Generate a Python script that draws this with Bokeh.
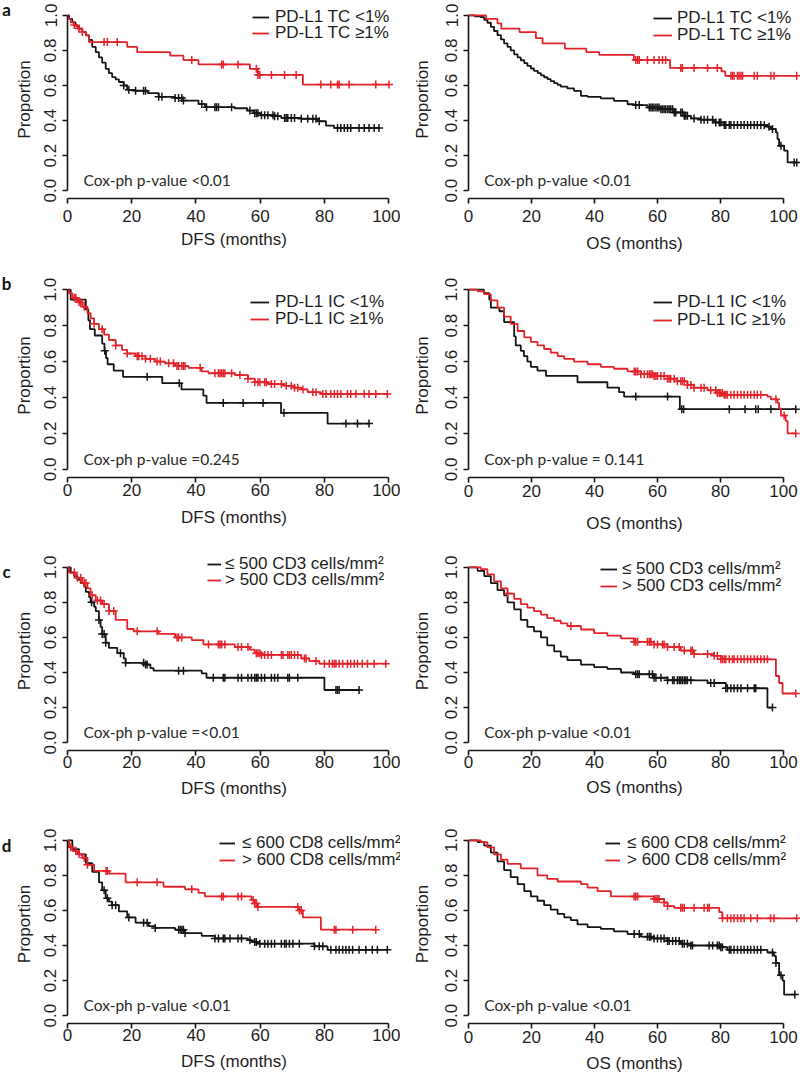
import numpy as np
from bokeh.plotting import figure
from bokeh.models import (Range1d, Legend, LegendItem, Label, FixedTicker,
                          PrintfTickFormatter)
from bokeh.layouts import gridplot
from bokeh.core.properties import value
from bokeh.embed import file_html
from bokeh.resources import INLINE

# ------------------------------------------------------------------ data
# each curve: event times (months), survival after each event, censor times
# a: PD-L1 TC, DFS
a_dfs_lo_t = [0.5, 1.5, 2.5, 3.6, 4.6, 5.7, 6.7, 7.7, 8.8, 9.8, 10.8, 11.9, 12.9, 13.9, 15.0, 16.0, 17.5, 18.6,
              21.0, 25.0, 28.4, 33.5, 36.0, 40.8, 42.8, 52.0, 56.0, 58.0, 60.0, 64.5, 66.6, 72.8, 78.0, 80.5, 83.0]
a_dfs_lo_s = [0.98, 0.96, 0.94, 0.925, 0.905, 0.886, 0.86, 0.82, 0.79, 0.76, 0.73, 0.695, 0.67, 0.648, 0.635, 0.62,
              0.60, 0.575, 0.57, 0.556, 0.535, 0.528, 0.514, 0.495, 0.476, 0.47, 0.457, 0.442, 0.43, 0.425, 0.415,
              0.41, 0.396, 0.371, 0.358]
a_dfs_lo_c = [17.5, 19.1, 21.2, 23.7, 24.3, 28.4, 29.4, 33.5, 34.6, 35.6, 36.1, 41.8, 43.3, 45.9, 46.4, 47.0, 51.1,
              56.8, 58.3, 58.8, 59.3, 60.4, 61.4, 62.4, 64.0, 64.5, 65.5, 67.6, 68.1, 68.6, 69.7, 70.7, 72.8, 74.8,
              76.4, 77.4, 78.4, 84.1, 85.1, 86.2, 87.2, 88.2, 90.8, 92.4, 93.9, 95.5, 97.0]
a_dfs_hi_t = [0.3, 1.0, 2.1, 3.1, 4.6, 5.7, 6.7, 18.6, 21.7, 32.0, 36.1, 40.8, 56.8, 59.3, 73.3]
a_dfs_hi_s = [0.98, 0.96, 0.945, 0.925, 0.905, 0.886, 0.848, 0.82, 0.79, 0.77, 0.745, 0.72, 0.695, 0.66, 0.605]
a_dfs_hi_c = [2.1, 3.6, 4.6, 11.4, 12.4, 15.5, 38.7, 48.0, 48.5, 53.1, 58.8, 59.3, 59.9, 63.5, 67.6, 71.2, 78.9,
              82.0, 84.1, 84.6, 87.7, 96.0, 100.1]
# a: PD-L1 TC, OS
a_os_lo_t = [2.0, 3.9, 5.0, 6.0, 7.1, 8.1, 9.2, 10.3, 11.3, 12.4, 13.4, 14.5, 15.6, 16.6, 17.7, 18.7, 19.8, 20.8,
             22.0, 23.0, 24.0, 25.1, 26.1, 27.2, 28.3, 29.3, 31.4, 33.5, 35.7, 37.8, 42.0, 46.2, 50.5, 52.6, 56.8,
             61.1, 65.3, 68.5, 70.6, 73.8, 78.0, 81.2, 94.9, 96.0, 97.6, 98.1, 98.6, 100.2, 101.3]
a_os_lo_s = [0.995, 0.99, 0.975, 0.958, 0.935, 0.911, 0.887, 0.863, 0.84, 0.82, 0.80, 0.778, 0.76, 0.744, 0.728,
             0.712, 0.697, 0.683, 0.67, 0.658, 0.647, 0.636, 0.625, 0.613, 0.603, 0.594, 0.583, 0.569, 0.541, 0.535,
             0.526, 0.512, 0.493, 0.488, 0.474, 0.465, 0.446, 0.427, 0.412, 0.405, 0.389, 0.374, 0.365, 0.351,
             0.332, 0.294, 0.256, 0.228, 0.161]
a_os_lo_c = [53.1, 54.2, 57.4, 57.9, 58.4, 58.9, 59.5, 60.0, 60.5, 61.1, 61.6, 62.1, 62.6, 63.2, 63.7, 64.2, 64.8,
             65.3, 65.8, 67.4, 67.9, 68.5, 69.0, 69.5, 71.6, 73.8, 74.8, 75.9, 77.5, 78.5, 79.6, 80.1, 81.2, 81.7,
             82.8, 83.3, 84.3, 85.4, 86.5, 87.5, 88.6, 89.6, 90.7, 91.7, 92.8, 93.9, 95.4, 96.5, 99.2, 103.4, 104.2]
a_os_hi_t = [5.6, 9.2, 10.4, 16.2, 21.4, 23.5, 30.6, 37.4, 41.5, 52.5, 64.0, 80.3, 81.5]
a_os_hi_s = [0.98, 0.955, 0.925, 0.905, 0.87, 0.84, 0.81, 0.79, 0.775, 0.745, 0.70, 0.68, 0.655]
a_os_hi_c = [53.1, 53.7, 54.2, 56.8, 58.9, 60.5, 61.6, 62.6, 67.4, 67.9, 71.6, 75.9, 79.0, 83.3, 83.8, 84.3, 85.4,
             85.9, 86.5, 87.0, 90.7, 91.7, 96.0, 97.0, 104.2]
# b: PD-L1 IC, DFS
b_dfs_lo_t = [1.0, 5.7, 6.5, 7.0, 8.5, 10.8, 11.5, 12.0, 12.5, 14.4, 17.3, 29.5, 35.5, 42.3, 43.3, 66.5, 81.0]
b_dfs_lo_s = [0.945, 0.89, 0.83, 0.78, 0.745, 0.70, 0.66, 0.62, 0.585, 0.55, 0.515, 0.48, 0.445, 0.41, 0.37,
              0.315, 0.255]
b_dfs_lo_c = [11.6, 24.8, 34.8, 48.5, 54.7, 60.9, 67.4, 86.7, 90.3, 93.9]
b_dfs_hi_t = [0.5, 1.5, 3.1, 4.6, 6.2, 7.2, 8.3, 9.8, 11.4, 12.9, 15.0, 17.0, 18.6, 21.2, 24.3, 27.3, 30.4, 33.5,
              37.7, 41.8, 43.9, 52.1, 56.2, 58.3, 62.4, 67.6, 70.7, 72.8, 74.8, 78.9]
b_dfs_hi_s = [0.98, 0.955, 0.93, 0.905, 0.87, 0.84, 0.81, 0.78, 0.75, 0.72, 0.69, 0.665, 0.645, 0.63, 0.615, 0.60,
              0.59, 0.575, 0.565, 0.545, 0.535, 0.525, 0.505, 0.485, 0.475, 0.465, 0.455, 0.445, 0.43, 0.42]
b_dfs_hi_c = [2.1, 2.6, 3.6, 4.1, 5.2, 8.3, 10.8, 15.0, 18.6, 21.7, 22.2, 23.2, 24.3, 25.8, 27.9, 28.9, 31.5, 33.0,
              34.1, 34.6, 35.6, 36.1, 36.6, 41.3, 45.9, 47.0, 47.5, 48.0, 48.5, 49.0, 51.1, 53.7, 56.2, 58.3, 59.3,
              59.9, 61.4, 61.9, 63.5, 64.5, 66.6, 68.1, 69.7, 70.7, 71.7, 73.3, 76.4, 77.4, 79.5, 80.5, 82.0, 83.1,
              84.1, 85.1, 87.2, 88.2, 89.8, 92.4, 93.9, 96.0, 99.6]
# b: PD-L1 IC, OS
b_os_lo_t = [4.9, 6.6, 7.1, 9.8, 11.3, 14.5, 15.0, 16.6, 17.6, 18.7, 19.8, 21.9, 24.6, 34.6, 44.1, 47.8, 49.4, 67.1]
b_os_lo_s = [0.98, 0.945, 0.90, 0.88, 0.82, 0.74, 0.69, 0.66, 0.63, 0.60, 0.57, 0.55, 0.52, 0.485, 0.455, 0.43,
             0.405, 0.335]
b_os_lo_c = [53.1, 63.2, 67.7, 68.3, 82.8, 87.8, 91.2, 92.0, 96.0, 103.9]
b_os_hi_t = [2.9, 5.0, 7.1, 9.2, 11.3, 13.4, 15.6, 17.7, 19.8, 21.9, 24.0, 26.1, 28.3, 30.4, 33.5, 37.8, 42.0, 46.2,
             50.5, 54.7, 58.9, 63.2, 66.3, 69.5, 71.6, 75.9, 79.0, 81.2, 94.9, 96.0, 98.1, 98.6, 99.2, 100.7, 101.3]
b_os_hi_s = [0.99, 0.975, 0.94, 0.90, 0.85, 0.81, 0.77, 0.735, 0.71, 0.69, 0.67, 0.65, 0.63, 0.615, 0.60, 0.585,
             0.57, 0.56, 0.545, 0.53, 0.52, 0.505, 0.49, 0.47, 0.455, 0.44, 0.425, 0.415, 0.405, 0.39, 0.37, 0.34,
             0.30, 0.27, 0.20]
b_os_hi_c = [52.6, 53.1, 53.7, 54.7, 55.8, 56.8, 57.4, 57.9, 58.4, 58.9, 59.5, 60.0, 61.1, 62.1, 63.2, 63.7, 64.2,
             65.3, 66.3, 67.4, 67.9, 68.5, 69.5, 70.6, 71.6, 73.8, 74.8, 76.9, 78.5, 79.0, 79.6, 80.1, 80.6, 81.2,
             81.7, 82.2, 83.3, 84.3, 85.4, 86.5, 87.5, 88.6, 89.6, 90.7, 91.7, 92.8, 97.6, 100.2, 103.9]
# c: CD3 density, DFS
c_dfs_lo_t = [1.0, 2.1, 3.1, 4.1, 5.2, 5.7, 6.7, 7.2, 8.3, 8.8, 9.8, 10.3, 10.8, 11.9, 12.9, 15.5, 17.5, 18.1,
              24.3, 25.8, 26.8, 41.8, 43.3, 80.0]
c_dfs_lo_s = [0.97, 0.95, 0.93, 0.91, 0.89, 0.86, 0.83, 0.80, 0.775, 0.75, 0.70, 0.66, 0.62, 0.57, 0.54, 0.51, 0.48,
              0.455, 0.445, 0.425, 0.41, 0.395, 0.37, 0.30]
c_dfs_lo_c = [7.5, 9.8, 10.8, 11.4, 11.9, 16.5, 18.1, 23.7, 24.3, 24.8, 34.6, 36.1, 45.4, 48.5, 49.0, 53.1, 54.2,
              56.2, 57.3, 58.3, 58.8, 59.3, 60.4, 61.4, 63.5, 64.5, 65.5, 68.6, 69.1, 71.7, 83.6, 84.1, 84.6, 90.8]
c_dfs_hi_t = [0.5, 2.6, 4.6, 6.2, 7.2, 8.8, 10.8, 12.9, 15.0, 18.6, 20.6, 28.4, 33.5, 38.7, 42.3, 52.1, 56.8, 58.3,
              60.4, 72.8, 75.3, 78.4]
c_dfs_hi_s = [0.97, 0.94, 0.91, 0.88, 0.84, 0.81, 0.79, 0.75, 0.70, 0.648, 0.635, 0.62, 0.60, 0.585, 0.56, 0.545,
              0.53, 0.51, 0.50, 0.48, 0.465, 0.45]
c_dfs_hi_c = [2.1, 3.1, 4.1, 5.2, 5.7, 7.7, 9.3, 10.3, 11.4, 12.9, 14.4, 21.7, 27.9, 34.1, 34.6, 35.6, 43.9, 47.0,
              47.5, 48.0, 49.0, 53.1, 54.2, 56.2, 58.8, 59.3, 59.9, 60.4, 61.4, 62.4, 63.5, 66.6, 67.1, 68.6, 69.1,
              69.7, 70.7, 71.7, 73.8, 74.3, 77.4, 80.0, 81.5, 82.5, 83.1, 83.6, 84.6, 85.7, 87.2, 88.2, 89.3, 90.3,
              91.8, 93.4, 95.5, 99.1]
# c: CD3 density, OS
c_os_lo_t = [2.9, 5.0, 7.1, 9.2, 11.3, 12.4, 14.5, 16.6, 18.7, 20.8, 23.0, 25.0, 27.2, 29.3, 31.4, 35.7, 39.9, 44.1,
             48.4, 52.6, 58.9, 63.2, 75.9, 81.7, 94.9]
c_os_lo_s = [0.98, 0.95, 0.91, 0.87, 0.84, 0.80, 0.76, 0.70, 0.66, 0.635, 0.60, 0.555, 0.52, 0.49, 0.47, 0.445,
             0.43, 0.42, 0.40, 0.39, 0.37, 0.355, 0.34, 0.31, 0.20]
c_os_lo_c = [53.1, 53.7, 54.2, 57.4, 58.4, 58.9, 59.5, 61.1, 63.2, 64.8, 65.3, 66.3, 66.9, 67.4, 67.9, 68.5, 69.0,
             69.5, 70.6, 76.9, 78.0, 81.7, 82.2, 83.3, 84.3, 85.4, 86.5, 88.6, 90.7, 91.2, 96.5]
c_os_hi_t = [3.9, 6.0, 8.1, 10.3, 12.4, 14.5, 16.6, 18.7, 20.8, 23.0, 25.0, 27.2, 29.3, 31.4, 35.7, 39.9, 44.1,
             48.4, 52.6, 58.9, 63.2, 67.4, 71.6, 78.0, 80.1, 97.6, 98.6, 99.7]
c_os_hi_s = [0.99, 0.96, 0.92, 0.88, 0.85, 0.82, 0.79, 0.77, 0.75, 0.73, 0.71, 0.695, 0.68, 0.665, 0.645, 0.625,
             0.61, 0.595, 0.575, 0.56, 0.545, 0.525, 0.505, 0.495, 0.475, 0.38, 0.34, 0.28]
c_os_hi_c = [12.4, 32.5, 52.6, 53.1, 53.7, 56.8, 57.4, 57.9, 58.9, 60.0, 61.6, 62.1, 63.2, 65.3, 66.9, 68.5, 70.6,
             71.1, 71.6, 75.9, 78.0, 79.0, 80.1, 80.6, 81.2, 81.7, 82.8, 83.8, 84.3, 85.4, 86.5, 87.5, 88.6, 89.6,
             90.7, 91.7, 92.8, 93.9, 94.9, 103.9]
# d: CD8 density, DFS
d_dfs_lo_t = [1.5, 3.6, 5.7, 7.7, 9.8, 10.8, 11.9, 12.9, 13.9, 16.0, 18.6, 21.2, 25.3, 27.3, 33.5, 36.6, 41.8, 45.9,
              56.2, 57.3, 59.3, 76.9, 81.0]
d_dfs_lo_s = [0.95, 0.92, 0.87, 0.82, 0.76, 0.715, 0.67, 0.65, 0.63, 0.595, 0.56, 0.53, 0.51, 0.50, 0.49, 0.47,
              0.455, 0.44, 0.43, 0.42, 0.41, 0.395, 0.375]
d_dfs_lo_c = [11.4, 12.4, 13.9, 15.0, 19.1, 23.7, 24.8, 27.3, 34.6, 35.1, 35.6, 36.1, 36.6, 45.9, 47.0, 48.5, 49.0,
              50.6, 53.1, 54.2, 56.8, 58.3, 58.8, 59.9, 61.4, 62.4, 63.5, 64.5, 66.6, 67.6, 68.1, 69.1, 70.2, 72.2,
              76.9, 78.4, 79.5, 82.0, 83.6, 84.6, 85.7, 86.7, 87.7, 88.8, 90.8, 92.9, 94.9, 96.5, 99.6]
d_dfs_hi_t = [0.5, 1.5, 3.1, 4.6, 6.2, 8.3, 12.9, 18.1, 29.9, 36.6, 40.8, 42.8, 57.3, 58.3, 59.3, 72.2, 73.3, 78.9]
d_dfs_hi_s = [0.96, 0.94, 0.92, 0.90, 0.86, 0.825, 0.81, 0.76, 0.735, 0.72, 0.70, 0.68, 0.66, 0.64, 0.62, 0.60,
              0.56, 0.49]
d_dfs_hi_c = [1.0, 2.6, 3.6, 5.2, 6.2, 12.0, 12.4, 21.7, 27.9, 38.7, 48.0, 48.5, 53.1, 54.2, 57.8, 58.3, 58.8, 59.3,
              71.7, 72.2, 72.8, 83.1, 83.6, 88.8, 96.0]
# d: CD8 density, OS
d_os_lo_t = [2.9, 5.0, 7.1, 9.2, 11.3, 13.4, 15.6, 17.7, 19.8, 21.9, 24.0, 26.1, 28.3, 30.4, 32.5, 34.6, 37.8, 42.0,
             46.2, 50.5, 54.7, 58.9, 63.2, 67.4, 70.6, 80.1, 82.2, 94.9, 97.0, 97.6, 98.6, 99.7, 100.2]
d_os_lo_s = [0.99, 0.97, 0.93, 0.88, 0.83, 0.79, 0.75, 0.71, 0.68, 0.655, 0.63, 0.605, 0.58, 0.56, 0.545, 0.52,
             0.505, 0.495, 0.48, 0.465, 0.45, 0.44, 0.425, 0.41, 0.40, 0.39, 0.375, 0.36, 0.34, 0.30, 0.23, 0.20,
             0.12]
d_os_lo_c = [52.6, 54.2, 56.8, 57.4, 57.9, 58.9, 60.0, 61.1, 62.1, 63.2, 63.7, 64.8, 65.8, 66.9, 67.9, 68.5, 69.5,
             70.6, 71.1, 76.4, 77.5, 79.0, 79.6, 80.1, 80.6, 82.8, 83.3, 84.3, 85.4, 86.5, 87.5, 88.6, 89.6, 90.7,
             91.7, 92.8, 96.5, 97.6, 99.2, 103.6]
d_os_hi_t = [3.9, 6.0, 8.1, 10.3, 12.4, 16.6, 21.9, 25.0, 28.3, 35.7, 37.8, 41.0, 45.2, 58.9, 62.1, 63.2, 65.3,
             79.6, 80.6]
d_os_hi_s = [0.99, 0.96, 0.92, 0.89, 0.865, 0.84, 0.80, 0.78, 0.765, 0.75, 0.73, 0.71, 0.68, 0.665, 0.645, 0.625,
             0.615, 0.59, 0.555]
d_os_hi_c = [52.6, 53.1, 53.7, 58.9, 59.5, 60.0, 60.5, 62.1, 63.2, 67.4, 67.9, 68.5, 71.6, 74.8, 75.9, 76.4, 80.6,
             82.2, 83.3, 84.3, 85.4, 86.5, 87.5, 89.6, 91.7, 95.9, 97.0, 104.2]

# texts
panel_letters = ["a", "b", "c", "d"]
legend_labels = [["PD-L1 TC <1%", "PD-L1 TC \u22651%"],
                 ["PD-L1 IC <1%", "PD-L1 IC \u22651%"],
                 ["\u2264 500 CD3 cells/mm\u00b2", "> 500 CD3 cells/mm\u00b2"],
                 ["\u2264 600 CD8 cells/mm\u00b2", "> 600 CD8 cells/mm\u00b2"]]
cox_texts = [["Cox-ph p-value <0.01", "Cox-ph p-value <0.01"],
             ["Cox-ph p-value =0.245", "Cox-ph p-value = 0.141"],
             ["Cox-ph p-value =<0.01", "Cox-ph p-value <0.01"],
             ["Cox-ph p-value <0.01", "Cox-ph p-value <0.01"]]
x_labels = ["DFS (months)", "OS (months)"]
y_label = "Proportion"
x_ticks = [0, 20, 40, 60, 80, 100]
y_ticks = [0.0, 0.2, 0.4, 0.6, 0.8, 1.0]

curves = [
    [[(a_dfs_lo_t, a_dfs_lo_s, a_dfs_lo_c), (a_dfs_hi_t, a_dfs_hi_s, a_dfs_hi_c)],
     [(a_os_lo_t, a_os_lo_s, a_os_lo_c), (a_os_hi_t, a_os_hi_s, a_os_hi_c)]],
    [[(b_dfs_lo_t, b_dfs_lo_s, b_dfs_lo_c), (b_dfs_hi_t, b_dfs_hi_s, b_dfs_hi_c)],
     [(b_os_lo_t, b_os_lo_s, b_os_lo_c), (b_os_hi_t, b_os_hi_s, b_os_hi_c)]],
    [[(c_dfs_lo_t, c_dfs_lo_s, c_dfs_lo_c), (c_dfs_hi_t, c_dfs_hi_s, c_dfs_hi_c)],
     [(c_os_lo_t, c_os_lo_s, c_os_lo_c), (c_os_hi_t, c_os_hi_s, c_os_hi_c)]],
    [[(d_dfs_lo_t, d_dfs_lo_s, d_dfs_lo_c), (d_dfs_hi_t, d_dfs_hi_s, d_dfs_hi_c)],
     [(d_os_lo_t, d_os_lo_s, d_os_lo_c), (d_os_hi_t, d_os_hi_s, d_os_hi_c)]],
]

# ------------------------------------------------------------------ style / layout
BLACK = "#151515"
RED = "#e2232a"
COLORS = [BLACK, RED]
FONT = "Liberation Sans"
TXT = "#1e1e1e"

# per row: border top, frame height, border bottom, y-range top
ROWS = [(0, 198, 64, 1.085), (11, 204, 63, 1.09), (11, 199, 62, 1.09), (12, 199, 57, 1.09)]
# per column: width, border left, border right, x end, y-label standoff
LETTER_W = 11
COLS = [(400 - LETTER_W, 65 - LETTER_W, 0, 103.7, 8), (400, 68, 0, 105.4, 11)]
# legend placement per panel: (line start offset from frame left, row1 / row2 centre above frame bottom,
#                              glyph width, standoff)
LEG = [[(185, 181, 165, 17, 6), (185, 180, 163, 19, 5)],
       [(183, 175, 158, 19, 6), (185, 175, 157, 19, 5)],
       [(140, 186, 170, 14, 4), (132, 181, 164, 17, 5)],
       [(152, 180, 163, 16, 7), (137, 180, 163, 15, 7)]]
# x-axis tick-label standoff / axis-label standoff per panel
XSTAND = [[(6, 5), (6, 9)], [(1, 9), (2, 14)], [(0, 8), (0, 7)], [(0, 8), (2, 8)]]
LETTER_Y = [12, 13, 27, 28]   # letter anchor in its strip (pixels from the top of the row)
ITEM_H = 20


def km_line(t, s, c):
    end = max(max(t), max(c))
    xs = [0.0] + list(t) + [end]
    ys = [1.0] + list(s) + [s[-1]]
    idx = np.searchsorted(np.asarray(t), np.asarray(c), side="right")
    ys_c = np.concatenate([[1.0], s])[idx]
    return xs, ys, ys_c


figs = []
for r in range(4):
    btop, fh, bbot, ytop = ROWS[r]
    H = btop + fh + bbot
    # narrow strip holding the panel letter
    pl = figure(width=LETTER_W, height=H, output_backend="svg", toolbar_location=None, title=None,
                x_range=Range1d(0, LETTER_W), y_range=Range1d(H, 0),
                x_axis_type=None, y_axis_type=None,
                min_border=0, min_border_left=0, min_border_right=0, min_border_top=0, min_border_bottom=0)
    pl.outline_line_color = None
    pl.text(x=[6], y=[LETTER_Y[r]], text=[panel_letters[r]], text_font=value("Lato"),
            text_font_style="bold", text_font_size="17px", text_color="#111111",
            text_align="center", text_baseline="middle")
    row_figs = [pl]
    for ci in range(2):
        width, bl, br, xend, ylstand = COLS[ci]
        p = figure(width=width, height=H, output_backend="svg", toolbar_location=None,
                   x_range=Range1d(0, xend), y_range=Range1d(-0.045, ytop),
                   min_border_top=btop, min_border_bottom=bbot, min_border_left=bl, min_border_right=br,
                   background_fill_color="white", border_fill_color="white")
        p.outline_line_color = None
        p.grid.visible = False

        renderers = []
        for k, (t, s, c) in enumerate(curves[r][ci]):
            xs, ys, ys_c = km_line(t, s, c)
            ln = p.step(xs, ys, mode="after", line_color=COLORS[k], line_width=1.8)
            p.scatter(c, ys_c, marker="cross", size=8, line_color=COLORS[k], line_width=1.5)
            renderers.append(ln)

        # axes
        p.xaxis.ticker = FixedTicker(ticks=x_ticks)
        p.yaxis.ticker = FixedTicker(ticks=y_ticks)
        p.yaxis.formatter = PrintfTickFormatter(format="%.1f")
        p.xaxis.bounds = (0, 100)
        p.yaxis.bounds = (0, 1)
        p.xaxis.axis_label = x_labels[ci]
        p.yaxis.axis_label = y_label
        p.yaxis.major_label_orientation = "parallel"
        for ax in (p.xaxis, p.yaxis):
            ax.axis_line_color = BLACK
            ax.axis_line_width = 1.6
            ax.major_tick_line_color = BLACK
            ax.major_tick_line_width = 1.6
            ax.major_tick_out = 5
            ax.major_tick_in = 0
            ax.minor_tick_line_color = None
            ax.major_label_text_font = FONT
            ax.major_label_text_font_size = "17px"
            ax.major_label_text_color = TXT
            ax.axis_label_text_font = FONT
            ax.axis_label_text_font_size = "17px"
            ax.axis_label_text_font_style = "normal"
            ax.axis_label_text_color = TXT
        p.xaxis.major_label_standoff = XSTAND[r][ci][0]
        p.xaxis.axis_label_standoff = XSTAND[r][ci][1]
        p.yaxis.major_label_standoff = 6
        p.yaxis.axis_label_standoff = ylstand

        # legend: one box per entry, positioned like the R legend
        lx, y1, y2, gw, so = LEG[r][ci]
        for k in range(2):
            yc = (y1, y2)[k]
            leg = Legend(items=[LegendItem(label=legend_labels[r][k], renderers=[renderers[k]])],
                         location=(lx, yc - ITEM_H // 2), orientation="vertical",
                         padding=0, margin=0, spacing=0, border_line_color=None,
                         background_fill_alpha=0, glyph_width=gw, glyph_height=ITEM_H,
                         label_height=ITEM_H, label_standoff=so,
                         label_text_font=FONT, label_text_font_size="17px", label_text_color=TXT)
            p.add_layout(leg)

        p.add_layout(Label(x=5, y=0.06, text=cox_texts[r][ci], text_font="Lato",
                           text_font_size="15.5px", text_color="#2a2a2a", text_baseline="middle"))
        row_figs.append(p)
    figs.append(row_figs)

grid = gridplot(figs, toolbar_location=None)
open("out.html", "w").write(file_html(grid, INLINE))
